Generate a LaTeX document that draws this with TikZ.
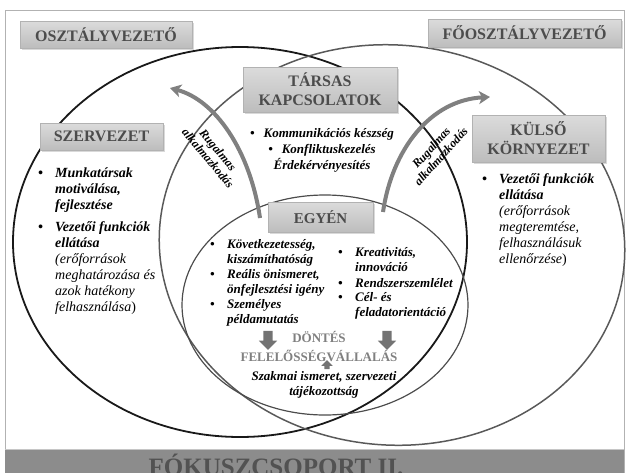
\documentclass[tikz,border=0pt]{standalone}
\usepackage{fontspec}
\setmainfont{Liberation Serif}
\usetikzlibrary{arrows.meta,shapes.arrows,shadows,positioning}

\newcommand{\lbul}{\makebox[17pt][l]{\textbullet}}
\newcommand{\lind}{\hspace*{17pt}}

\begin{document}
\begin{tikzpicture}[x=1pt,y=-1pt,
    headbox/.style={top color=gray!28, bottom color=gray!52, draw=gray!60, line width=1pt,
      drop shadow={opacity=0.3,shadow xshift=1.5pt,shadow yshift=-1.5pt},
      text=black!70, font=\fontsize{16}{19}\selectfont\bfseries, align=center, inner sep=0pt},
    itemtext/.style={font=\fontsize{14}{16}\selectfont\bfseries\itshape, align=left,
      inner sep=0pt, anchor=north west},
    flexarrow/.style={line width=4pt, draw=black!50, -{Stealth[length=11pt,width=13pt,inset=3pt]}},
    flextext/.style={font=\fontsize{12}{13}\selectfont\bfseries\itshape, align=center, inner sep=0pt},
    fatarrow/.style={single arrow, fill=black!55, draw=none, inner sep=4.5pt,
      minimum height=19pt, single arrow head extend=4.5pt},
    leftring/.style={line width=1.8pt, draw=black!90},
    rightring/.style={line width=1.5pt, draw=black!65},
    innerring/.style={line width=1.2pt, draw=black!70}]
  \clip (0,0) rectangle (627,472);

  % frame and bottom band
  \draw[gray!60, line width=0.8pt] (5,10) rectangle (624,480);
  \fill[black!45] (5,449) rectangle (624,480);
  \draw[gray!45, line width=1pt] (5,449) -- (624,449);
  \node[font=\fontsize{25}{25}\selectfont\bfseries, text=black!68, anchor=base] (fokusz)
    at (276,475.5) {FÓKUSZCSOPORT II.};

  % rings
  \draw[leftring] (240,242) ellipse [x radius=227, y radius=195];
  \draw[rightring, rotate around={-5:(392,245)}] (392,245) ellipse [x radius=233, y radius=200];
  \draw[innerring] (325,305) ellipse [x radius=143, y radius=110];

  % heading boxes
  \node[headbox, minimum width=172pt, minimum height=27pt] (osztaly) at (106,34.5) {OSZTÁLYVEZETŐ};
  \node[headbox, minimum width=193pt, minimum height=28pt] (foosztaly) at (524.5,33) {FŐOSZTÁLYVEZETŐ};
  \node[headbox, minimum width=154pt, minimum height=45pt] (tarsas) at (320,89.5) {TÁRSAS\\KAPCSOLATOK};
  \node[headbox, minimum width=123pt, minimum height=27pt] (szervezet) at (101.5,136.5) {SZERVEZET};
  \node[headbox, minimum width=133pt, minimum height=47pt] (kulso) at (538.5,138.5) {KÜLSŐ\\KÖRNYEZET};
  \node[headbox, minimum width=105pt, minimum height=30pt, font=\fontsize{15}{18}\selectfont\bfseries]
    (egyen) at (320.5,217) {EGYÉN};

  % lists
  \node[itemtext] (szlist) at (38,168) {\lbul Munkatársak\\ \lind motiválása,\\ \lind fejlesztése\\[6pt]
    \lbul Vezetői funkciók\\ \lind ellátása\\ \lind{\mdseries (erőforrások}\\
    \lind{\mdseries meghatározása és}\\ \lind{\mdseries azok hatékony}\\
    \lind{\mdseries felhasználása\upshape)}};
  \node[itemtext] (kulist) at (482,173) {\lbul Vezetői funkciók\\ \lind ellátása\\
    \lind{\mdseries (erőforrások}\\ \lind{\mdseries megteremtése,}\\
    \lind{\mdseries felhasználásuk}\\ \lind{\mdseries ellenőrzése\upshape)}};
  \node[itemtext, align=center, anchor=north, font=\fontsize{13}{16}\selectfont\bfseries\itshape]
    (tarslist) at (322,128) {\textbullet\hspace{9pt}Kommunikációs készség\\
    \textbullet\hspace{9pt}Konfliktuskezelés\\ Érdekérvényesítés};
  \node[itemtext, font=\fontsize{13}{15}\selectfont\bfseries\itshape] (eglist) at (210,239)
    {\lbul Következetesség,\\ \lind kiszámíthatóság\\ \lbul Reális önismeret,\\
    \lind önfejlesztési igény\\ \lbul Személyes\\ \lind példamutatás};
  \node[itemtext, font=\fontsize{13}{15}\selectfont\bfseries\itshape] (egright) at (338,247)
    {\lbul Kreativitás,\\ \lind innováció\\[1pt] \lbul Rendszerszemlélet\\[-1pt]
    \lbul Cél- és\\ \lind feladatorientáció};

  % decision
  \node[fatarrow, shape border rotate=270] (dnleft) at (268,338) {};
  \node[fatarrow, shape border rotate=270] (dnright) at (387,338) {};
  \node[font=\fontsize{13}{19}\selectfont\bfseries, text=black!50, align=center, inner sep=0pt]
    (dontes) at (319,347) {DÖNTÉS\\FELELŐSSÉGVÁLLALÁS};
  \node[fatarrow, shape border rotate=90, minimum height=9pt, inner sep=2.5pt,
    single arrow head extend=3pt] (upmid) at (327,366) {};
  \node[font=\fontsize{13}{15}\selectfont\bfseries\itshape, align=center, inner sep=0pt]
    (szakmai) at (324,385) {Szakmai ismeret, szervezeti\\tájékozottság};

  % flexible adaptation arrows
  \coordinate (flexl) at (170,88);
  \coordinate (flexr) at (490,97);
  \draw[flexarrow] (260,218) .. controls (250,150) and (215,100) .. (flexl);
  \draw[flexarrow] (383,212) .. controls (392,150) and (430,100) .. (flexr);
  \node[flextext, rotate=-50] (flexltext) at (213,154) {Rugalmas\\alkalmazkodás};
  \node[flextext, rotate=48] (flexrtext) at (436,152) {Rugalmas\\alkalmazkodás};
\end{tikzpicture}
\end{document}
